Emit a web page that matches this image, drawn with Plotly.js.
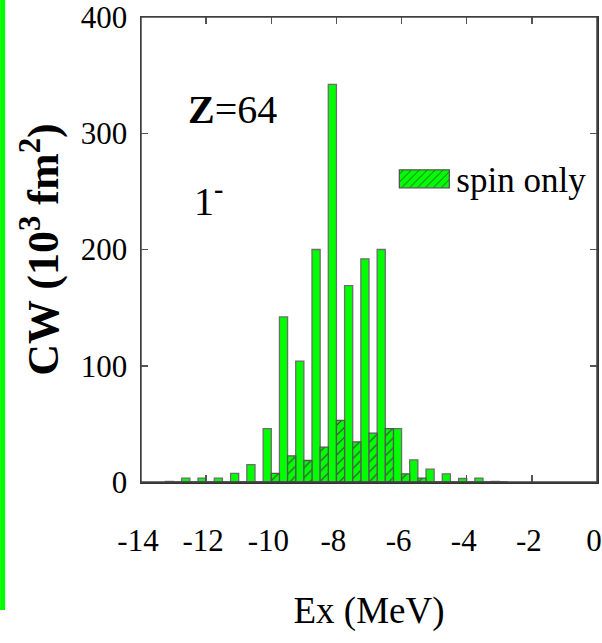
<!DOCTYPE html>
<html>
<head>
<meta charset="utf-8">
<script src="https://cdn.plot.ly/plotly-3.0.1.min.js"></script>
<style>
  html, body { margin: 0; padding: 0; background: #fff; }
  #chart { width: 602px; height: 643px; }
</style>
</head>
<body>
<div id="chart"></div>
<script>
// Excitation energy bins (MeV)
const energies = [-13.0, -12.5, -12.0, -11.5, -11.0, -10.5, -10.0, -9.5, -9.0, -8.5, -8.0, -7.5, -7.0, -6.5, -6.0, -5.5, -5.0, -4.5, -4.0, -3.5, -3.0];
// Total CW (10^3 fm^2)
const totalCW = [0.5, 3.4, 3.4, 3.4, 7.5, 15, 46, 142, 104, 200, 342, 169, 192, 200, 46, 19, 11, 7, 3, 3.4, 0.5];
// Spin-only CW (10^3 fm^2)
const spinCW = [0, 0, 0, 0, 0, 0, 7.5, 22.5, 18.5, 30, 53, 34.5, 42, 46, 7, 3.4, 0, 0, 0, 0, 0];
const xTicks = [-14, -12, -10, -8, -6, -4, -2, 0];
const yTicks = [0, 100, 200, 300, 400];

const serif = '"Liberation Serif", "Times New Roman", serif';

const traces = [
  {
    type: 'bar', x: energies, y: totalCW, name: 'total', showlegend: false,
    marker: { color: '#00ff00', line: { color: '#6e6e6e', width: 1.3 } },
    hoverinfo: 'x+y'
  },
  {
    type: 'bar', x: energies, y: spinCW, name: 'spin only',
    marker: {
      color: '#00ff00',
      line: { color: '#555555', width: 1.3 },
      pattern: { shape: '/', fgcolor: '#3a3a3a', bgcolor: '#00ff00', size: 7, solidity: 0.15 }
    },
    hoverinfo: 'x+y'
  }
];

const axisCommon = {
  showgrid: false, zeroline: false, showline: true, linecolor: '#333', linewidth: 1.5,
  ticks: 'inside', ticklen: 7, tickwidth: 1.5, tickcolor: '#555', mirror: 'allticks',
  ticklabeloverflow: 'allow',
  tickfont: { family: serif, size: 31, color: '#000' }
};

const layout = {
  width: 602, height: 643,
  margin: { l: 141, r: 5, t: 17, b: 161 },
  paper_bgcolor: '#fff', plot_bgcolor: '#fff',
  barmode: 'group', bargap: 0, bargroupgap: 0,
  xaxis: Object.assign({}, axisCommon, {
    range: [-14, 0], tickvals: xTicks, ticktext: xTicks.map(v => v < 0 ? '-' + Math.abs(v) : String(v)),
    ticklabelstandoff: 30, ticklabelshift: -3,
    title: { text: 'Ex (MeV)', font: { family: serif, size: 37, color: '#000' }, standoff: 40 }
  }),
  yaxis: Object.assign({}, axisCommon, {
    range: [0, 400], tickvals: yTicks, ticklabelstandoff: 6,
    title: { text: '<b>CW (10<sup>3</sup> fm<sup>2</sup>)</b>', font: { family: serif, size: 44, color: '#000' }, standoff: 8 }
  }),
  legend: {
    x: 0.56, y: 0.715, xanchor: 'left', yanchor: 'top', bgcolor: 'rgba(0,0,0,0)',
    font: { family: serif, size: 35, color: '#000' }, itemwidth: 50
  },
  annotations: [
    { xref: 'paper', yref: 'paper', x: 0.2, y: 0.8, xanchor: 'center', yanchor: 'middle',
      text: '<b>Z</b>=64', showarrow: false,
      font: { family: serif, size: 40, color: '#000' } },
    { xref: 'paper', yref: 'paper', x: 0.148, y: 0.61, xanchor: 'center', yanchor: 'middle',
      text: '1<sup><b>-</b></sup>', showarrow: false,
      font: { family: serif, size: 40, color: '#000' } }
  ],
  shapes: [
    { type: 'rect', xref: 'paper', yref: 'paper', x0: -0.309, x1: -0.298, y0: -0.275, y1: 1.04,
      fillcolor: '#00ff00', line: { width: 0 }, layer: 'below' },
    { type: 'rect', xref: 'paper', yref: 'paper', x0: 0, x1: 1, y0: 0, y1: 1,
      fillcolor: 'rgba(0,0,0,0)', line: { color: '#444', width: 1.5 }, layer: 'above' }
  ]
};

Plotly.newPlot('chart', traces, layout, { displayModeBar: false, staticPlot: true }).then(function (gd) {
  // widen the legend swatch to resemble the reference's long hatched box
  const pts = gd.querySelectorAll('.legend .legendpoints path');
  pts.forEach(function (p) { p.setAttribute('d', 'M-27,-9H23V9H-27Z'); });
});
</script>
</body>
</html>
